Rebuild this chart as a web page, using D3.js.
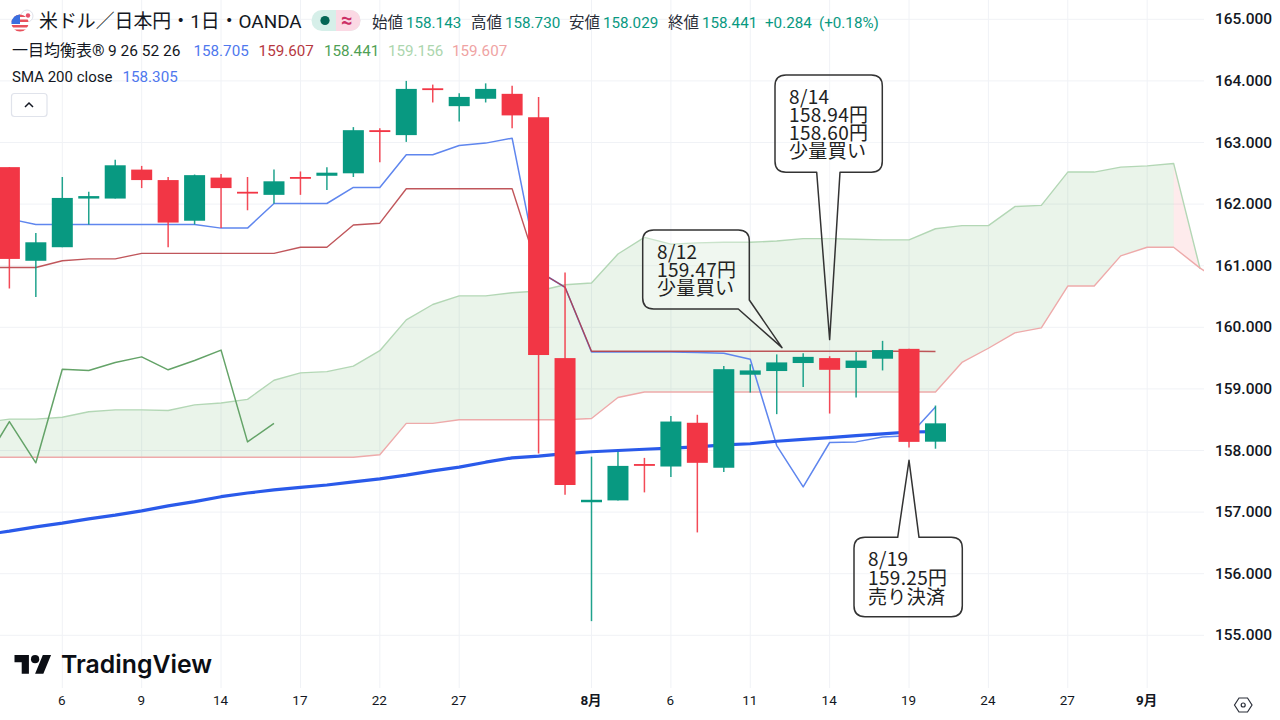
<!DOCTYPE html>
<html lang="ja">
<head>
<meta charset="utf-8">
<script src="https://cdn.jsdelivr.net/npm/d3@7"></script>
<style>
html,body{margin:0;padding:0;background:#fff;overflow:hidden}
svg{display:block}
text{font-family:Roboto,"Noto Sans CJK JP",sans-serif}
.note{font-family:"Noto Sans CJK JP",sans-serif;font-size:19px;letter-spacing:.35px;color:#222;white-space:pre;margin:0}
</style>
</head>
<body>
<svg id="chart" width="1280" height="720"></svg>
<script>
// ---- data -------------------------------------------------------------
const firstBar = -22;               // bar 0 is 8/1
const opens  = [162.60,161.08,161.30,162.09,162.09,162.56,162.39,161.73,162.43,162.20,162.15,162.44,162.46,162.50,163.20,163.12,163.88,163.59,163.71,163.79,163.41,159.50,157.16,157.19,157.78,157.74,158.45,157.72,159.23,159.29,159.42,159.50,159.34,159.49,159.65,158.143];
const highs  = [162.60,161.53,162.44,162.20,162.72,162.62,162.44,162.48,162.49,162.44,162.56,162.53,162.60,163.25,163.23,164.00,163.94,163.80,163.96,163.92,163.74,160.89,157.90,157.98,157.88,158.56,158.58,159.37,159.40,159.56,159.58,159.53,159.60,159.78,159.65,158.730];
const lows   = [160.63,160.49,161.30,161.67,162.09,162.26,161.30,161.67,161.61,161.90,162.01,162.15,162.23,162.44,162.68,163.01,163.65,163.34,163.65,163.23,157.95,157.28,155.23,157.19,157.32,157.57,156.67,157.65,158.94,158.59,159.03,158.60,158.86,159.30,158.05,158.029];
const closes = [161.11,161.38,162.10,162.13,162.63,162.39,161.70,162.47,162.26,162.18,162.37,162.42,162.51,163.20,163.17,163.87,163.86,163.74,163.87,163.44,159.55,157.44,157.20,157.75,157.76,158.47,157.80,159.32,159.30,159.43,159.52,159.31,159.46,159.63,158.14,158.441];

const lineStart = -23;              // line series start one bar left of the frame
const tenkan = [161.82,161.76,161.67,161.67,161.67,161.67,161.67,161.67,161.67,161.61,161.61,162.01,162.01,162.01,162.27,162.27,162.80,162.80,162.95,162.99,163.07,160.91,160.65,159.60,159.60,159.60,159.60,159.59,159.58,159.48,158.08,157.41,158.13,158.14,158.22,158.24,158.705];
const kijun  = [160.97,160.97,160.97,161.08,161.11,161.11,161.20,161.20,161.20,161.20,161.20,161.20,161.30,161.30,161.66,161.69,162.25,162.25,162.25,162.25,162.25,160.91,160.65,159.61,159.61,159.61,159.61,159.61,159.61,159.61,159.61,159.61,159.61,159.61,159.61,159.61,159.607];
const chikou = [157.76,158.47,157.80,159.32,159.30,159.43,159.52,159.31,159.46,159.63,158.14,158.441];
const sma200 = [156.63,156.69,156.76,156.82,156.89,156.95,157.02,157.10,157.17,157.25,157.31,157.36,157.40,157.44,157.49,157.54,157.60,157.67,157.73,157.81,157.88,157.91,157.95,157.98,158.00,158.02,158.04,158.06,158.09,158.11,158.15,158.18,158.21,158.24,158.27,158.30,158.305];
const senkouA = [158.45,158.51,158.51,158.54,158.63,158.66,158.66,158.65,158.74,158.77,158.83,159.14,159.26,159.28,159.37,159.62,160.12,160.37,160.51,160.51,160.56,160.59,160.69,160.72,161.19,161.46,161.35,161.37,161.38,161.38,161.40,161.44,161.44,161.43,161.42,161.42,161.60,161.65,161.65,161.96,161.98,162.52,162.52,162.60,162.62,162.66,160.95];
const senkouB = [157.89,157.89,157.89,157.89,157.89,157.89,157.89,157.89,157.89,157.89,157.89,157.89,157.89,157.89,157.89,157.93,158.44,158.44,158.50,158.50,158.50,158.50,158.50,158.52,158.86,158.95,158.95,158.95,158.95,158.95,158.95,158.95,158.95,158.95,158.95,158.95,158.95,159.43,159.66,159.91,159.99,160.67,160.67,161.16,161.30,161.30,160.96,160.69];

const priceTicks = [155,156,157,158,159,160,161,162,163,164,165];
const timeTickBars = [-20,-17,-14,-11,-8,-5,0,3,6,9,12,15,18,21];
const timeTickLabels = ["6","9","14","17","22","27","8月","6","11","14","19","24","27","9月"];

const calloutNotes = [
  ["8/12","159.47円","少量買い"],
  ["8/14","158.94円","158.60円","少量買い"],
  ["8/19","159.25円","売り決済"]
];
const calloutTipBars = [7.2, 9, 12];
const calloutTipPrices = [159.67, 159.80, 157.84];

// ---- layout -----------------------------------------------------------
const plotRight = 1204, plotBottom = 688;
const x = d3.scaleLinear().domain([0, 21]).range([591.5, 591.5 + 21 * 26.46]);
const y = d3.scaleLinear().domain([155, 165]).range([635.3, 19.3]);
const UP = "#089981", DOWN = "#F23645", INK = "#131722";
const svg = d3.select("#chart");

svg.append("defs").append("clipPath").attr("id","plotClip")
  .append("rect").attr("x",0).attr("y",0).attr("width",plotRight).attr("height",plotBottom);

// grid
const grid = svg.append("g").attr("stroke","#f0f2f6").attr("stroke-width",1);
grid.selectAll("line.h").data(priceTicks).join("line").attr("class","h")
  .attr("x1",0).attr("x2",plotRight).attr("y1",d=>y(d)).attr("y2",d=>y(d));
grid.selectAll("line.v").data(timeTickBars).join("line").attr("class","v")
  .attr("x1",d=>x(d)).attr("x2",d=>x(d)).attr("y1",0).attr("y2",plotBottom);

const plot = svg.append("g").attr("clip-path","url(#plotClip)");

// cloud
const kumo = d3.range(senkouA.length).map(i => ({bar: lineStart + i, a: senkouA[i], b: senkouB[i]}));
const area = d3.area().x(d=>x(d.bar)).y0(d=>y(d.b)).y1(d=>y(d.a));
const bullish = kumo.filter(d => d.a > d.b);
const bearish = kumo.filter((d,i) => d.a <= d.b || (kumo[i+1] && kumo[i+1].a <= kumo[i+1].b));
plot.append("path").attr("d",area(bullish)).attr("fill","#43a047").attr("fill-opacity",0.115);
plot.append("path").attr("d",area(bearish)).attr("fill","#f23645").attr("fill-opacity",0.1);

const line = d3.line().x(d=>x(d.bar)).y(d=>y(d.v));
const series = (vals,start) => vals.map((v,i)=>({bar:start+i,v}));
const draw = (vals,start,color,w,op) => plot.append("path")
  .attr("d",line(series(vals,start))).attr("fill","none").attr("stroke",color)
  .attr("stroke-width",w).attr("stroke-opacity",op||1).attr("stroke-linejoin","round");

draw(senkouA,lineStart,"#b3d7b5",1.4);
draw(senkouB,lineStart,"#eeaaaa",1.4);
draw(chikou,lineStart,"#64a368",1.5);
draw(tenkan,lineStart,"#5f86ee",1.5);
draw(kijun,lineStart,"#b5383e",1.4,0.85);
draw(sma200,lineStart,"#2a5aea",3.2);

// candles
const candles = opens.map((o,i)=>({bar:firstBar+i,o,h:highs[i],l:lows[i],c:closes[i]}));
const colorOf = d => d.c >= d.o ? UP : DOWN;
const bw = 21;
const cg = plot.append("g");
cg.selectAll("line").data(candles).join("line")
  .attr("x1",d=>x(d.bar)).attr("x2",d=>x(d.bar)).attr("y1",d=>y(d.h)).attr("y2",d=>y(d.l))
  .attr("stroke",colorOf).attr("stroke-width",1.5).attr("stroke-opacity",0.9);
cg.selectAll("rect").data(candles).join("rect")
  .attr("x",d=>x(d.bar)-bw/2).attr("width",bw)
  .attr("y",d=>y(Math.max(d.o,d.c)))
  .attr("height",d=>Math.max(1.8,Math.abs(y(d.o)-y(d.c))))
  .attr("fill",colorOf);

// price axis
const yAxis = d3.axisRight(y).tickValues(priceTicks).tickFormat(d3.format(".3f")).tickSize(0).tickPadding(0);
const yg = svg.append("g").attr("transform","translate(1215,0)").call(yAxis);
yg.select(".domain").remove();
yg.selectAll("text").attr("fill",INK).attr("font-size",14.5).attr("font-weight",500)
  .attr("font-family","'DejaVu Sans'").attr("textLength",57).attr("lengthAdjust","spacingAndGlyphs").attr("dy","0.32em");

// time axis
const xAxis = d3.axisBottom(x).tickValues(timeTickBars)
  .tickFormat((d,i)=>timeTickLabels[i]).tickSize(0).tickPadding(0);
const xg = svg.append("g").attr("transform","translate(-1,695)").call(xAxis);
xg.select(".domain").remove();
xg.selectAll("text").attr("fill",INK).attr("font-size",13.5).attr("dy","0.71em")
  .attr("font-weight",(d,i)=>/月/.test(timeTickLabels[i])?700:400);

// hex settings icon
svg.append("path").attr("d","M1234.5 705l4.5-7h8.5l4.5 7-4.5 7h-8.5z").attr("fill","none").attr("stroke","#2a2e39").attr("stroke-width",1.2);
svg.append("circle").attr("cx",1243.2).attr("cy",705).attr("r",2).attr("fill","none").attr("stroke","#2a2e39").attr("stroke-width",1.2);

// callouts
const calloutBoxes = [
  {l:642.7,t:230,r:749.3,b:309,side:"br",n1:[738.3,309],n2:[749.3,300],tx:657,cy:250.5,lh:18},
  {l:775,t:75,r:882.3,b:172.3,side:"b",n1:[816.7,172.3],n2:[840,172.3],tx:789,cy:96,lh:18},
  {l:854,t:537.3,r:962.3,b:616.7,side:"t",n1:[919,537.3],n2:[897.7,537.3],tx:868,cy:558.5,lh:18.7}
];
const R = 11;
calloutBoxes.forEach((b,i)=>{
  const tx = x(calloutTipBars[i]), ty = y(calloutTipPrices[i]);
  let p;
  if(b.side==="br"){
    p=`M${b.l+R},${b.t}H${b.r-R}Q${b.r},${b.t} ${b.r},${b.t+R}V${b.n2[1]}L${tx},${ty}L${b.n1[0]},${b.b}H${b.l+R}Q${b.l},${b.b} ${b.l},${b.b-R}V${b.t+R}Q${b.l},${b.t} ${b.l+R},${b.t}Z`;
  } else if(b.side==="b"){
    p=`M${b.l+R},${b.t}H${b.r-R}Q${b.r},${b.t} ${b.r},${b.t+R}V${b.b-R}Q${b.r},${b.b} ${b.r-R},${b.b}H${b.n2[0]}L${tx},${ty}L${b.n1[0]},${b.b}H${b.l+R}Q${b.l},${b.b} ${b.l},${b.b-R}V${b.t+R}Q${b.l},${b.t} ${b.l+R},${b.t}Z`;
  } else {
    p=`M${b.l+R},${b.t}H${b.n2[0]}L${tx},${ty}L${b.n1[0]},${b.t}H${b.r-R}Q${b.r},${b.t} ${b.r},${b.t+R}V${b.b-R}Q${b.r},${b.b} ${b.r-R},${b.b}H${b.l+R}Q${b.l},${b.b} ${b.l},${b.b-R}V${b.t+R}Q${b.l},${b.t} ${b.l+R},${b.t}Z`;
  }
  svg.append("path").attr("d",p).attr("fill","#fff").attr("fill-opacity",0.3)
    .attr("stroke","#333").attr("stroke-width",1.5).attr("stroke-linejoin","round");
  // the note is one wrapped block of text with a tight line height
  svg.append("foreignObject")
    .attr("x",b.tx).attr("y",b.cy-b.lh/2)
    .attr("width",b.r-b.tx).attr("height",b.lh*calloutNotes[i].length+2)
    .append("xhtml:div").attr("class","note")
    .style("line-height",b.lh+"px")
    .text(calloutNotes[i].join("\n"));
});

// header
const hdr = svg.append("g");
const T = (px,py,s,c,size,w) => hdr.append("text").attr("x",px).attr("y",py).text(s)
  .attr("fill",c).attr("font-size",size).attr("font-weight",w||400);
// flag
hdr.append("circle").attr("cx",27).attr("cy",16).attr("r",6).attr("fill","#fff").attr("stroke","#dfe2ea").attr("stroke-width",1);
hdr.append("circle").attr("cx",28).attr("cy",15.5).attr("r",2.2).attr("fill","#e8506a");
hdr.append("circle").attr("cx",20).attr("cy",23).attr("r",8.6).attr("fill","#fff");
const flagClip = svg.select("defs").append("clipPath").attr("id","flagClip");
flagClip.append("circle").attr("cx",20).attr("cy",23).attr("r",8.6);
const flag = hdr.append("g").attr("clip-path","url(#flagClip)");
flag.append("rect").attr("x",11).attr("y",14).attr("width",18).attr("height",3).attr("fill","#e8505b");
flag.append("rect").attr("x",11).attr("y",19.5).attr("width",18).attr("height",2.5).attr("fill","#e8505b");
flag.append("rect").attr("x",11).attr("y",25).attr("width",18).attr("height",2.5).attr("fill","#e8505b");
flag.append("rect").attr("x",11).attr("y",29.5).attr("width",18).attr("height",3).attr("fill","#e8505b");
flag.append("rect").attr("x",11).attr("y",14).attr("width",9).attr("height",10).attr("fill","#3b6fe0");

T(39,28,"米ドル／日本円・1日・OANDA",INK,18.9);
// status pill
hdr.append("rect").attr("x",311.5).attr("y",10).attr("width",49).attr("height",21).attr("rx",10.5).attr("fill","#d6efe9");
hdr.append("path").attr("d","M336,10h14a10.5,10.5 0 0 1 0,21h-14z").attr("fill","#fbd9e4");
hdr.append("circle").attr("cx",325).attr("cy",20.5).attr("r",4.6).attr("fill","#056656");
T(341,26.5,"≈","#cc2f66",20,700);

const ohlcLabels = ["始値","高値","安値","終値"];
const ohlcValues = ["158.143","158.730","158.029","158.441"];
const labelX = [372,471,569,668];
ohlcLabels.forEach((s,i)=>{ T(labelX[i],27.5,s,"#2a2e39",15.5);
  T(labelX[i]+34,27.5,ohlcValues[i],UP,15.2); });
T(765,27.5,"+0.284",UP,15.2); T(819,27.5,"(+0.18%)",UP,15.2);

T(12,55.5,"一目均衡表®",INK,16);
T(108,55.5,"9 26 52 26",INK,15.5);
const ichiValues = ["158.705","159.607","158.441","159.156","159.607"];
const ichiColors = ["#4f78ee","#b6383f","#4f9f55","#acd6ae","#efa3a3"];
const ichiX = [193.5,258.6,324,388,452];
ichiValues.forEach((s,i)=>T(ichiX[i],55.5,s,ichiColors[i],15.2));
T(12,82,"SMA 200 close",INK,15);
T(122.5,82,"158.305","#4f78ee",15.2);

// collapse button
hdr.append("rect").attr("x",11.5).attr("y",93.5).attr("width",35.5).attr("height",23).attr("rx",3)
  .attr("fill","#fff").attr("stroke","#e0e3eb").attr("stroke-width",1.2);
hdr.append("path").attr("d","M25,107l4,-4l4,4").attr("fill","none").attr("stroke",INK).attr("stroke-width",1.5);

// logo
const logo = svg.append("g").attr("transform","translate(14.5,651) scale(1.03)");
logo.append("path").attr("d","M14 22H7V11H0V4h14v18zM28 22h-8l7.5-18h8L28 22z").attr("fill","#0b0e14");
logo.append("circle").attr("cx",20).attr("cy",8).attr("r",4).attr("fill","#0b0e14");
svg.append("text").attr("x",61).attr("y",673).text("TradingView").attr("fill","#0b0e14")
  .attr("font-size",24.5).attr("font-weight",600).attr("textLength",151).attr("lengthAdjust","spacingAndGlyphs")
  .style("font-family","Inter,Roboto");
</script>
</body>
</html>
